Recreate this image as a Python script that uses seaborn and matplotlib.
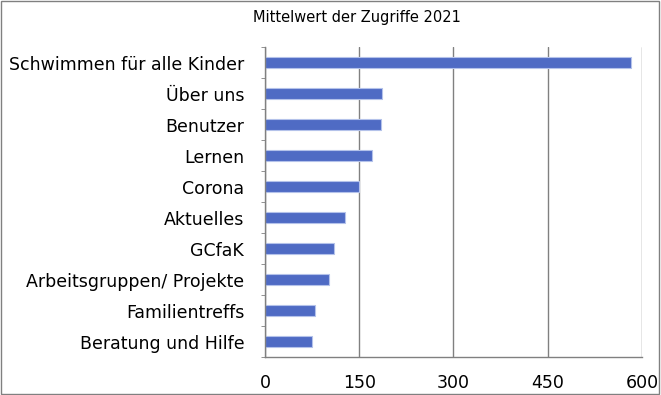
import matplotlib
matplotlib.use("Agg")
import matplotlib.pyplot as plt
import seaborn as sns
import pandas as pd
from matplotlib.ticker import FixedLocator

# Data
pages = [
    "Schwimmen für alle Kinder",
    "Über uns",
    "Benutzer",
    "Lernen",
    "Corona",
    "Aktuelles",
    "GCfaK",
    "Arbeitsgruppen/ Projekte",
    "Familientreffs",
    "Beratung und Hilfe",
]
mean_hits = [583, 187, 185, 171, 149, 128, 109, 102, 80, 75]
x_ticks = [0, 150, 300, 450, 600]

df = pd.DataFrame({"Seite": pages, "Zugriffe": mean_hits})

sns.set_style("white")
plt.rcParams["font.family"] = ["DejaVu Sans"]
plt.rcParams["text.color"] = "black"
plt.rcParams["xtick.color"] = "black"
plt.rcParams["ytick.color"] = "black"

fig = plt.figure(figsize=(6.61, 3.95), dpi=100)
ax = fig.add_axes([0.401, 0.096, 0.570, 0.785])

sns.barplot(data=df, x="Zugriffe", y="Seite", color="#4f6bc4", saturation=1,
            width=0.38, edgecolor="#b4c2ea", linewidth=0.8, ax=ax)

ax.set_xlim(0, 600)
ax.set_ylim(len(pages) - 0.5, -0.5)
ax.set_xticks(x_ticks)
ax.set_xticklabels([str(t) for t in x_ticks], fontsize=12.5)
ax.tick_params(axis="y", labelsize=12.5, length=0, pad=15, labelcolor="black")
ax.tick_params(axis="x", length=3, color="#808080", pad=9, labelcolor="black")
ax.yaxis.set_minor_locator(FixedLocator([i - 0.5 for i in range(len(pages) + 1)]))
ax.tick_params(axis="y", which="minor", length=3, color="#808080", left=True)
ax.set_xlabel("")
ax.set_ylabel("")

ax.grid(axis="x", color="#808080", linewidth=1)
ax.set_axisbelow(True)
for side in ["top", "right"]:
    ax.spines[side].set_visible(False)
for side in ["left", "bottom"]:
    ax.spines[side].set_color("#808080")
    ax.spines[side].set_linewidth(1)

fig.text(0.540, 0.955, "Mittelwert der Zugriffe 2021", fontsize=10.5,
         ha="center", va="center", color="black")

# thin frame around the whole picture
fig.patches.append(plt.Rectangle((0.002, 0.003), 0.995, 0.994, transform=fig.transFigure,
                                 fill=False, edgecolor="#808080", linewidth=1))

fig.savefig("out.png", dpi=100)
